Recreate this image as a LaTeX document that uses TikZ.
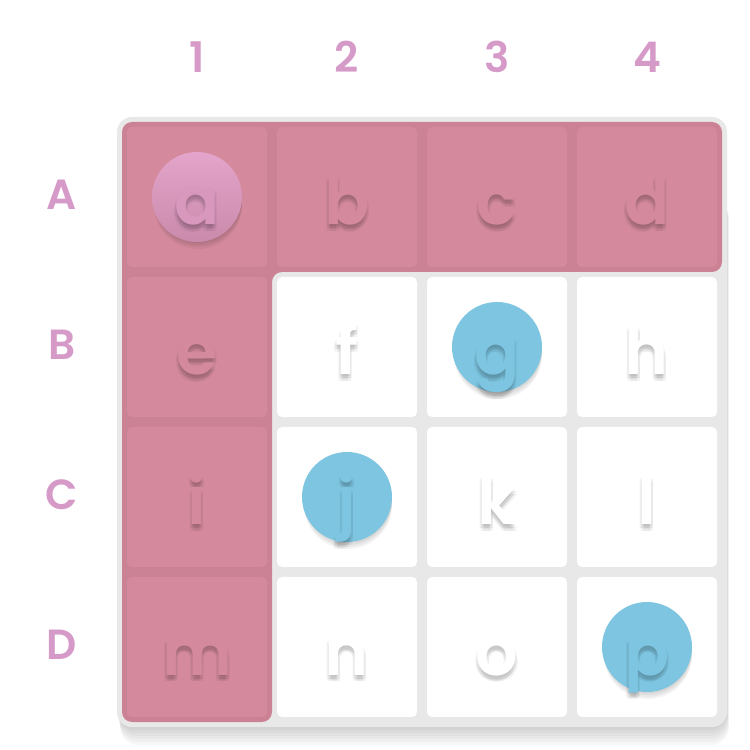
\documentclass[tikz,border=0pt]{standalone}
\usepackage{fontspec}
\setmainfont{Poppins}
\newfontfamily\cellfont{Poppins SemiBold}
\newfontfamily\labelfont{Poppins SemiBold}
\usepackage{tikz}
\usetikzlibrary{positioning,calc}
\definecolor{bdGray}{HTML}{E8E8E8}
\definecolor{bdPink}{HTML}{D48A9C}
\definecolor{bdPinkDark}{HTML}{CB8294}
\definecolor{bdLabel}{HTML}{D69AC9}
\definecolor{bdBlue}{HTML}{7DC5E0}
\definecolor{bdRoseTop}{HTML}{E4A4CB}
\definecolor{bdRoseBot}{HTML}{C98AAB}

% letter with a soft shadow: name, centre, text, colour
\newcommand{\shadowletter}[4]{%
  \foreach \dx/\dy in {0/-0.04, 0.04/-0.08, -0.04/-0.08, 0/-0.1, 0.03/-0.14, -0.03/-0.14}
    \node[letter, text=black, opacity=0.045] at ($(#2)+(\dx,-0.56+\dy)$) {#3};
  \node[letter, text=#4] (#1) at ($(#2)+(0,-0.56)$) {#3};%
}

\begin{document}
\begin{tikzpicture}[
    cellbox/.style={fill=white, rounded corners=0.1cm},
    pinkbox/.style={fill=bdPink, rounded corners=0.1cm},
    letter/.style={font=\cellfont\fontsize{38}{38}\selectfont, inner sep=0pt, anchor=base},
    axislabel/.style={font=\labelfont\fontsize{24}{24}\selectfont, text=bdLabel, inner sep=0pt},
    token/.style={circle, minimum size=1.8cm, inner sep=0pt}]
    \useasboundingbox (0,0) rectangle (15,15);

    % ── cell centres ───────────────────────────────────────────────────────
    \foreach \l [count=\n from 0] in {a,b,c,d,e,f,g,h,i,j,k,l,m,n,o,p} {
      \pgfmathtruncatemacro{\col}{mod(\n,4)}
      \pgfmathtruncatemacro{\row}{div(\n,4)}
      \coordinate (c-\l) at (3.94+3*\col, 11.06-3*\row);
    }

    % ── board with its shadow ──────────────────────────────────────────────
    \foreach \s in {0.06,0.12,0.18,0.24,0.30,0.36}
      \fill[black, opacity=0.03, rounded corners=0.35cm]
        (2.34+0.2*\s,0.46-\s) rectangle (14.54+0.1*\s,11);
    \fill[bdGray, rounded corners=0.3cm] (2.34,0.46) rectangle (14.54,12.66);

    % ── white cells ────────────────────────────────────────────────────────
    \foreach \l in {a,b,c,d,e,f,g,h,i,j,k,l,m,n,o,p}
      \fill[cellbox] ($(c-\l)+(-1.4,-1.4)$) rectangle ($(c-\l)+(1.4,1.4)$);

    % ── highlighted row A and column 1 ─────────────────────────────────────
    \fill[bdPinkDark, rounded corners=0.2cm]
      (2.44,12.56) -- (14.44,12.56) -- (14.44,9.56) -- (5.44,9.56)
      -- (5.44,0.56) -- (2.44,0.56) -- cycle;
    \foreach \l in {a,b,c,d,e,i,m}
      \fill[pinkbox] ($(c-\l)+(-1.4,-1.4)$) rectangle ($(c-\l)+(1.4,1.4)$);

    % ── cell letters ───────────────────────────────────────────────────────
    \foreach \l in {b,c,d,e,i,m}
      \shadowletter{\l}{c-\l}{\l}{bdPink};
    \foreach \l in {f,h,k,l,n,o}
      \shadowletter{\l}{c-\l}{\l}{white};

    % ── tokens ─────────────────────────────────────────────────────────────
    \foreach \l in {a,g,j,p}
      \foreach \s in {0.04,0.08,0.12,0.16}
        \fill[black, opacity=0.045] ($(c-\l)+(0.02,-\s)$) circle (0.88);
    \node[token, top color=bdRoseTop, bottom color=bdRoseBot] (tok-a) at (c-a) {};
    \node[token, fill=bdBlue] (tok-g) at (c-g) {};
    \node[token, fill=bdBlue] (tok-j) at (c-j) {};
    \node[token, fill=bdBlue] (tok-p) at (c-p) {};
    \shadowletter{a}{c-a}{a}{bdRoseTop!55!bdRoseBot}
    \shadowletter{g}{c-g}{g}{bdBlue}
    \shadowletter{j}{c-j}{j}{bdBlue}
    \shadowletter{p}{c-p}{p}{bdBlue}

    % ── column and row labels ──────────────────────────────────────────────
    \node[axislabel] (col1) at (3.94,13.86) {1};
    \node[axislabel] (col2) at (6.94,13.86) {2};
    \node[axislabel] (col3) at (9.94,13.86) {3};
    \node[axislabel] (col4) at (12.94,13.86) {4};
    \node[axislabel] (rowA) at (1.24,11.1) {A};
    \node[axislabel] (rowB) at (1.24,8.1) {B};
    \node[axislabel] (rowC) at (1.24,5.1) {C};
    \node[axislabel] (rowD) at (1.24,2.1) {D};
\end{tikzpicture}
\end{document}
